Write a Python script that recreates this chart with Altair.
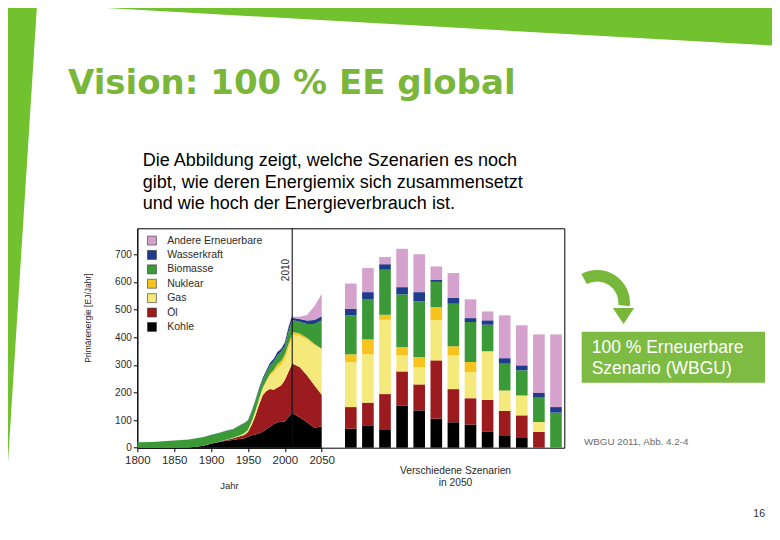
import altair as alt
import pandas as pd

# ---------------- data ----------------
quellen = ["Andere Erneuerbare", "Wasserkraft", "Biomasse", "Nuklear", "Gas", "Öl", "Kohle"]
farben = ["#d4a2cd", "#1f3c8c", "#3b9a37", "#f7c31d", "#f5e97c", "#9b1b1f", "#000000"]

jahre_hist = [1800, 1820, 1850, 1870, 1880, 1890, 1900, 1910, 1920, 1930, 1940, 1945, 1950,
              1955, 1960, 1965, 1970, 1975, 1980, 1985, 1990, 1995, 2000, 2005, 2010]
kohle_hist = [0, 0, 0, 1, 3, 7, 14, 20, 25, 28, 32, 34, 40, 45, 48, 52, 58, 68, 76, 86, 92, 93, 95, 112, 128]
oel_hist = [0, 0, 0, 0, 0, 0, 1, 1, 3, 6, 10, 12, 17, 37, 67, 103, 132, 137, 136, 124, 126, 132, 150, 163, 177]
gas_hist = [0, 0, 0, 0, 0, 0, 0, 0, 1, 2, 4, 6, 8, 13, 17, 20, 25, 35, 50, 62, 72, 75, 77, 87, 95]
nuklear_hist = [0, 0, 0, 0, 0, 0, 0, 0, 0, 0, 0, 0, 0, 0, 0, 1, 2, 3, 6, 10, 13, 14, 15, 14, 12]
biomasse_hist = [20, 21, 26, 29, 31, 32, 31, 32, 31, 31, 36, 36, 32, 35, 36, 34, 28, 29, 30, 30, 32, 33, 31, 44, 48]
wasser_hist = [0, 0, 0, 0, 0, 0, 0.5, 0.5, 1, 1, 1, 1, 2, 3, 4, 5, 7, 8, 9, 10, 11, 11, 13, 16, 18]
andere_hist = [0, 0, 0, 0, 0, 0, 0, 0, 0, 0, 0, 0, 0, 0, 0, 0, 0, 0, 0, 0, 1, 2, 3, 4, 7]

jahre_proj = [2010, 2020, 2030, 2040, 2050]
kohle_proj = [125, 110, 92, 72, 78]
oel_proj = [180, 182, 170, 154, 114]
gas_proj = [105, 113, 130, 146, 164]
nuklear_proj = [10, 8, 6, 4, 2]
biomasse_proj = [42, 43, 50, 72, 102]
wasser_proj = [8, 10, 12, 14, 16]
andere_proj = [4, 8, 20, 50, 80]

szenarien = ["S1", "S2", "S3", "S4", "S5", "S6", "S7", "S8", "S9", "S10", "S11", "S12", "S13 (WBGU)"]
kohle_sz = [69, 81, 64, 153, 135, 105, 92, 84, 59, 45, 35, 0, 0]
oel_sz = [78, 82, 130, 123, 94, 211, 120, 95, 114, 88, 82, 57, 0]
gas_sz = [163, 175, 269, 58, 63, 145, 122, 95, 176, 74, 72, 36, 0]
nuklear_sz = [28, 54, 18, 30, 36, 48, 33, 36, 0, 0, 0, 0, 0]
biomasse_sz = [141, 144, 163, 191, 202, 91, 154, 145, 96, 97, 91, 88, 127]
wasser_sz = [24, 27, 20, 26, 33, 8, 22, 14, 16, 20, 18, 17, 20]
andere_sz = [91, 87, 26, 139, 137, 48, 89, 68, 32, 155, 145, 212, 263]

jahr_ticks = [1800, 1850, 1900, 1950, 2000, 2050]
ej_ticks = [0, 100, 200, 300, 400, 500, 600, 700]

rang = {q: len(quellen) - 1 - i for i, q in enumerate(quellen)}  # Kohle unten


def long_table(keys, keyname, series):
    rows = []
    for q, vals in series.items():
        for k, v in zip(keys, vals):
            rows.append({keyname: k, "Quelle": q, "EJ": v, "rang": rang[q]})
    return pd.DataFrame(rows)


hist_df = long_table(jahre_hist, "Jahr", {
    "Kohle": kohle_hist, "Öl": oel_hist, "Gas": gas_hist, "Nuklear": nuklear_hist,
    "Biomasse": biomasse_hist, "Wasserkraft": wasser_hist, "Andere Erneuerbare": andere_hist})
proj_df = long_table(jahre_proj, "Jahr", {
    "Kohle": kohle_proj, "Öl": oel_proj, "Gas": gas_proj, "Nuklear": nuklear_proj,
    "Biomasse": biomasse_proj, "Wasserkraft": wasser_proj, "Andere Erneuerbare": andere_proj})
sz_df = long_table(szenarien, "Szenario", {
    "Kohle": kohle_sz, "Öl": oel_sz, "Gas": gas_sz, "Nuklear": nuklear_sz,
    "Biomasse": biomasse_sz, "Wasserkraft": wasser_sz, "Andere Erneuerbare": andere_sz})
one = pd.DataFrame({"k": [0]})

# ---------------- layout / style ----------------
FONT = "Liberation Sans"
TXT = "#2a2a2a"
BAND = "#72c22f"
TITLE_GREEN = "#79b63a"
BOX = "#7dbb43"
ARROW = "#77b83a"
W, H = 427, 219.4
OX, OY = 137.3, 228.3          # page position of plot origin


def X(px):
    return px - OX


def Y(py):
    return py - OY


yscale = alt.Scale(domain=[0, 794], nice=False, zero=True)
yaxis = alt.Axis(values=ej_ticks, title=None, grid=False, tickSize=4, labelFontSize=10,
                 labelPadding=2, labelColor=TXT, domainColor="black", tickColor="black",
                 labelFont=FONT)
xscale = alt.Scale(domain=[1800, 2050], range=[0, 184.4], nice=False, zero=False)
xaxis = alt.Axis(values=jahr_ticks, format="d", title=None, grid=False, tickSize=4,
                 labelFontSize=11.5, labelPadding=3, labelColor=TXT, domainColor="black",
                 tickColor="black", labelFlush=False, labelOverlap=False, labelFont=FONT)

farbe = alt.Color("Quelle:N", scale=alt.Scale(domain=quellen, range=farben),
                  legend=alt.Legend(title=None, orient="none", legendX=9.4, legendY=7.0,
                                    symbolType="square", symbolSize=80, symbolStrokeColor="#333",
                                    symbolStrokeWidth=0.6, symbolOpacity=1, labelFontSize=10.5,
                                    labelFont=FONT, labelColor=TXT, labelOffset=10,
                                    rowPadding=2.4, padding=0))
ordnung = alt.Order("rang:Q", sort="ascending")

area_hist = alt.Chart(hist_df).mark_area(opacity=1, interpolate="linear").encode(
    x=alt.X("Jahr:Q", scale=xscale, axis=xaxis),
    y=alt.Y("EJ:Q", stack="zero", scale=yscale, axis=yaxis),
    color=farbe, order=ordnung)
area_proj = alt.Chart(proj_df).mark_area(opacity=1, interpolate="linear").encode(
    x=alt.X("Jahr:Q", scale=xscale, axis=xaxis),
    y=alt.Y("EJ:Q", stack="zero", scale=yscale, axis=yaxis),
    color=farbe, order=ordnung)
rule2010 = alt.Chart(one).mark_rule(color="black", strokeWidth=1).encode(
    x=alt.datum(2010))
hist_group = alt.layer(area_hist, area_proj, rule2010)

bars = alt.Chart(sz_df).mark_bar(opacity=1).encode(
    x=alt.X("Szenario:N", sort=szenarien,
            scale=alt.Scale(range=[207.7, 424.5], paddingInner=0.32, paddingOuter=0),
            axis=None),
    y=alt.Y("EJ:Q", stack="zero", scale=yscale, axis=yaxis),
    color=farbe, order=ordnung)


def txt(text, x, y, size, color=TXT, align="left", baseline="alphabetic", font=FONT,
        weight="normal", angle=0, line_height=None):
    kw = dict(font=font, fontSize=size, color=color, align=align, baseline=baseline,
              fontWeight=weight, angle=angle)
    if line_height is not None:
        kw["lineHeight"] = line_height
    return alt.Chart(one).mark_text(**kw).encode(
        x=alt.value(X(x)), y=alt.value(Y(y)), text=alt.value(text))


# slide decorations
band = alt.Chart(one).mark_rule(color=BAND, strokeWidth=80, strokeCap="butt").encode(
    x=alt.value(X(-50)), y=alt.value(Y(-40.9)), x2=alt.value(X(850)), y2=alt.value(Y(9.9)))
strip = alt.Chart(one).mark_rule(color=BAND, strokeWidth=80, strokeCap="butt").encode(
    x=alt.value(X(0.4)), y=alt.value(Y(-50)), x2=alt.value(X(-40.8)), y2=alt.value(Y(600)))
arc = alt.Chart(one).mark_arc(color=ARROW, theta=5.79, theta2=7.95, radius=33,
                              radius2=21.5).encode(x=alt.value(X(597)), y=alt.value(Y(303)))
head = alt.Chart(one).mark_point(shape="M-1,-0.6L1,-0.6L0,0.9Z", filled=True, size=453,
                                 color=ARROW, opacity=1, strokeWidth=0).encode(
    x=alt.value(X(623.5)), y=alt.value(Y(314.4)))
box = alt.Chart(one).mark_rect(color=BOX).encode(
    x=alt.value(X(581.7)), x2=alt.value(X(765)), y=alt.value(Y(331.7)), y2=alt.value(Y(382.7)))

texts = [
    txt("Vision: 100 % EE global", 68, 94.3, 34, color=TITLE_GREEN, font="DejaVu Sans",
        weight="bold"),
    txt(["Die Abbildung zeigt, welche Szenarien es noch",
         "gibt, wie deren Energiemix sich zusammensetzt",
         "und wie hoch der Energieverbrauch ist."], 142.7, 166, 18, color="#000000",
        line_height=21.5),
    txt(["100 % Erneuerbare", "Szenario (WBGU)"], 591.7, 353.3, 17.5, color="#ffffff",
        line_height=21),
    txt("WBGU 2011, Abb. 4.2-4", 584, 445, 9.8, color="#6b6b6b"),
    txt("16", 765, 517, 10.5, color="#333333", align="right"),
    txt("Primärenergie [EJ/Jahr]", 88.3, 318, 8.5, align="center", baseline="middle", angle=270),
    txt("Jahr", 229.5, 486, 9.5, align="center", baseline="middle"),
    txt(["Verschiedene Szenarien", "in 2050"], 455.5, 473.7, 10.25, align="center",
        line_height=12),
    txt("2010", 289.3, 270, 10, align="center", angle=270),
]

chart = alt.layer(band, strip, hist_group, bars, arc, head, box, *texts).resolve_scale(
    x="independent"
).properties(
    width=W, height=H,
    autosize=alt.AutoSizeParams(type="none"),
    padding={"left": 129.3, "top": 220.3, "right": 207.7, "bottom": 84.3},
).configure(background="white", font=FONT).configure_view(stroke="black", strokeWidth=1)

chart.save("out.html", embed_options={"renderer": "svg", "actions": False})
